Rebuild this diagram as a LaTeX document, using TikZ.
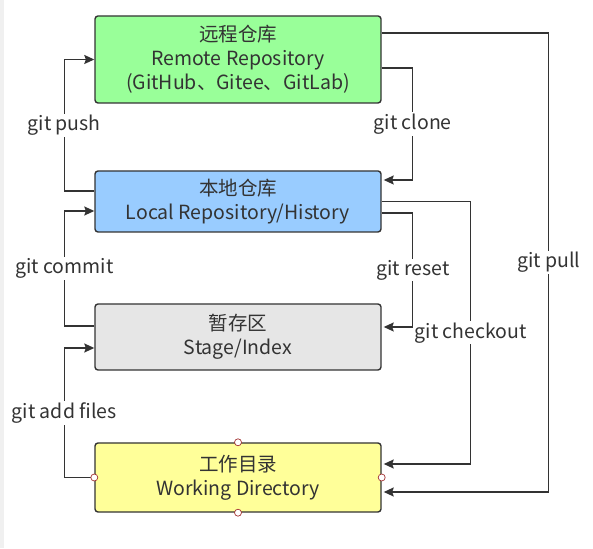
\documentclass[tikz,border=0pt]{standalone}
\usepackage{fontspec}
\setmainfont{Noto Sans CJK SC}
\usetikzlibrary{arrows.meta}
\definecolor{ink}{HTML}{333333}
\definecolor{remotefill}{HTML}{99FF99}
\definecolor{localfill}{HTML}{99CCFF}
\definecolor{stagefill}{HTML}{E6E6E6}
\definecolor{workfill}{HTML}{FFFF99}
\definecolor{handlered}{HTML}{A33333}
\definecolor{stripgray}{HTML}{F0F0F0}
\begin{document}
\begin{tikzpicture}[x=1pt,y=1pt,
  box/.style={draw=ink, line width=1.4pt, rounded corners=3pt, minimum width=286pt,
    align=center, text=ink, font=\fontsize{19.5}{24}\selectfont},
  flow/.style={draw=ink, line width=1.4pt, -{Stealth[length=10pt,width=9pt,inset=1.5pt]}},
  lbl/.style={fill=white, text=ink, inner sep=1.5pt, font=\fontsize{19.5}{22}\selectfont},
  handle/.style={circle, draw=handlered, fill=white, inner sep=0pt, minimum size=7pt, line width=0.7pt}]
\useasboundingbox (0,0) rectangle (593,548);
\fill[stripgray] (0,0) rectangle (4,548);
\node[box, fill=remotefill, minimum height=87pt] (remote) at (238,488.5) {远程仓库\\Remote Repository\\(GitHub、Gitee、GitLab)};
\node[box, fill=localfill, minimum height=61pt] (local) at (238,346.5) {本地仓库\\Local Repository/History};
\node[box, fill=stagefill, minimum height=66pt] (stage) at (238,211) {暂存区\\Stage/Index};
\node[box, fill=workfill, minimum height=69pt] (work) at (238,70.5) {工作目录\\Working Directory};
\draw[flow] ([yshift=10.5pt]local.west) -- ++(-30,0) |- node[lbl, pos=0.25]{git push} (remote.west);
\draw[flow] ([yshift=11pt]stage.west) -- ++(-30,0) |- node[lbl, pos=0.25]{git commit} ([yshift=-9.5pt]local.west);
\draw[flow] (work.west) -- ++(-30,0) |- node[lbl, pos=0.25]{git add files} ([yshift=-11pt]stage.west);
\draw[flow, shorten >=2pt] ([yshift=-8.5pt]remote.east) -- ++(31,0) |- node[lbl, pos=0.25]{git clone} ([yshift=21.5pt]local.east);
\draw[flow, shorten >=2pt] ([yshift=-11.5pt]local.east) -- ++(31,0) |- node[lbl, pos=0.25]{git reset} ([yshift=10pt]stage.east);
\draw[flow, shorten >=2pt] (local.east) -- ++(89,0) |- node[lbl, pos=0.25]{git checkout} ([yshift=13.5pt]work.east);
\draw[flow, shorten >=2pt] ([yshift=26.5pt]remote.east) -- ++(167,0) |- node[lbl, pos=0.25]{git pull} ([yshift=-14.5pt]work.east);
\foreach \a in {north,south,east,west}
  \node[handle] at (work.\a) {};
\end{tikzpicture}
\end{document}
